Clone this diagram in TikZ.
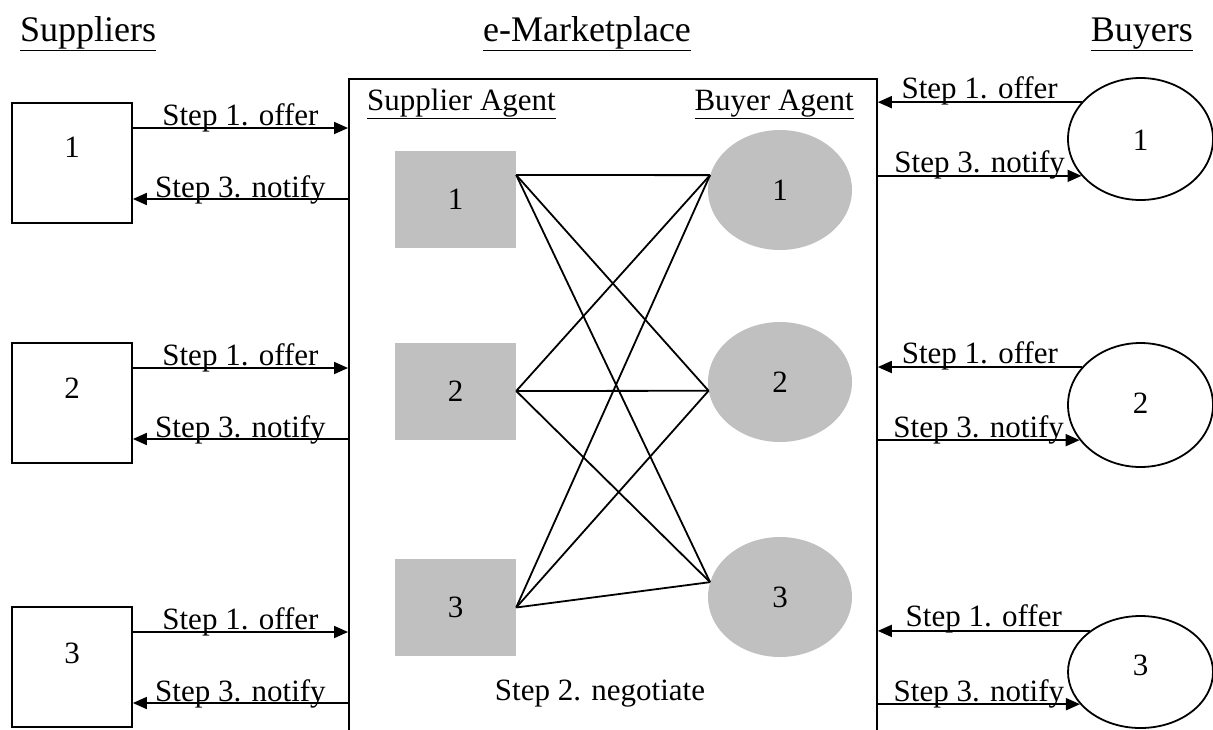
\documentclass[tikz,border=0pt]{standalone}
\usepackage{fontspec}
\setmainfont{Liberation Serif}
\usetikzlibrary{arrows.meta,shapes.geometric}
\definecolor{agentgray}{RGB}{192,192,192}
\begin{document}
\begin{tikzpicture}[x=1pt,y=-1pt,
  txt/.style={font=\fontsize{31}{37}\selectfont, inner sep=0pt},
  ttl/.style={font=\fontsize{36}{43}\selectfont, inner sep=0pt},
  sbox/.style={draw, line width=1.8pt, fill=white, minimum width=120pt, minimum height=120pt, inner sep=0pt},
  agsq/.style={fill=agentgray, minimum width=121pt, minimum height=97pt, inner sep=0pt, font=\fontsize{31}{37}\selectfont},
  agel/.style={ellipse, fill=agentgray, minimum width=144pt, minimum height=120pt, inner sep=0pt, font=\fontsize{31}{37}\selectfont},
  bel/.style={ellipse, draw, line width=1.8pt, fill=white, minimum width=145pt, inner sep=0pt},
  arr/.style={line width=1.8pt, -{Triangle[length=14pt,width=12pt]}},
  link/.style={line width=1.8pt},
  lbl/.style={txt, midway, anchor=base}
]
\useasboundingbox (0,0) rectangle (1213,729);
\clip (0,0) rectangle (1213,729);

% column headings
\node[ttl, anchor=base west] (tsup) at (20,41) {\underline{Suppliers}};
\node[ttl, anchor=base] (tmkt) at (587,41) {\underline{e-Marketplace}};
\node[ttl, anchor=base east] (tbuy) at (1193,41) {\underline{Buyers}};

% the e-marketplace frame (open at the bottom)
\node[draw, line width=1.8pt, minimum width=528pt, minimum height=720pt,
      inner sep=0pt, anchor=north west] (mkt) at (348,78) {};
\node[txt, anchor=base west] (tsa) at (367,110) {\underline{Supplier Agent}};
\node[txt, anchor=base east] (tba) at (854,110) {\underline{Buyer Agent}};

% suppliers
\node[sbox] (s1) at (72,163) {};
\node[sbox] (s2) at (72,403) {};
\node[sbox] (s3) at (72,667) {};
\node[txt] (s1n) at (72,147) {1};
\node[txt] (s2n) at (72,388) {2};
\node[txt] (s3n) at (72,653) {3};

% supplier agents
\node[agsq] (sa1) at (455.5,199.5) {1};
\node[agsq] (sa2) at (455.5,391) {2};
\node[agsq] (sa3) at (455.5,607.5) {3};

% buyer agents
\node[agel] (ba1) at (780,190) {1};
\node[agel] (ba2) at (780,382) {2};
\node[agel] (ba3) at (780,597) {3};

% buyers
\node[bel, minimum height=122pt] (bc1) at (1140.5,139) {};
\node[bel, minimum height=124pt] (bc2) at (1140.5,405) {};
\node[bel, minimum height=112pt] (bc3) at (1140.5,672) {};
\node[txt] (bc1n) at (1140.5,140) {1};
\node[txt] (bc2n) at (1140.5,403) {2};
\node[txt] (bc3n) at (1140.5,665) {3};

% negotiation links between supplier agents and buyer agents
\coordinate (p1) at ([yshift=24.5pt]sa1.east);
\coordinate (p2) at (sa2.east);
\coordinate (p3) at (sa3.east);
\coordinate (q1) at (ba1.168);
\coordinate (q2) at (ba2.187);
\coordinate (q3) at (ba3.168);
\foreach \i in {1,2,3}
  \foreach \j in {1,2,3}
    \draw[link] (p\i) -- (q\j);
\node[txt, anchor=base] (neg) at (600,700) {Step 2. negotiate};

% suppliers <-> marketplace
\foreach \k in {1,2,3} {
  \draw[arr] ([yshift=35pt]s\k.east) -- ([yshift=35pt]s\k.east -| mkt.west)
    node[lbl, yshift=3pt] {Step 1. offer};
  \draw[arr] ([yshift=-36pt]s\k.east -| mkt.west) -- ([yshift=-36pt]s\k.east)
    node[lbl, yshift=2pt] {Step 3. notify};
}

% buyers <-> marketplace
\draw[arr] (bc1.148) -- (bc1.148 -| mkt.east) node[lbl, yshift=4pt] {Step 1. offer};
\draw[arr] (bc1.212 -| mkt.east) -- (bc1.212) node[lbl, yshift=3pt] {Step 3. notify};
\draw[arr] (bc2.147) -- (bc2.147 -| mkt.east) node[lbl, yshift=4pt] {Step 1. offer};
\draw[arr] (bc2.210 -| mkt.east) -- (bc2.210) node[lbl, yshift=3pt] {Step 3. notify};
\draw[arr] (bc3.141) -- (bc3.141 -| mkt.east) node[lbl, yshift=4pt] {Step 1. offer};
\draw[arr] (bc3.208 -| mkt.east) -- (bc3.208) node[lbl, yshift=3pt] {Step 3. notify};
\end{tikzpicture}
\end{document}
